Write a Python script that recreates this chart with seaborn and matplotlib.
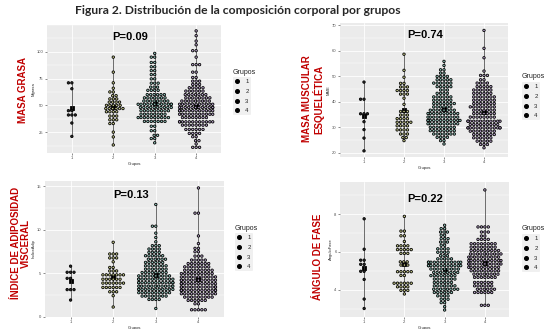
"""
Figura 2: distribución de la composición corporal por grupos (dotplots)
"""
import numpy as np
import pandas as pd
import matplotlib

matplotlib.use("Agg")
import matplotlib.pyplot as plt
from matplotlib.lines import Line2D
from matplotlib.ticker import AutoMinorLocator
import seaborn as sns

GRUPOS = ["1", "2", "3", "4"]

# Masa grasa: valor de cada fila de puntos y cantidad de puntos en la fila
grasa_g1_val = [71, 65.5, 45, 41, 33.5, 21]
grasa_g1_n = [2, 1, 2, 3, 1, 1]
grasa_g2_val = [95, 81, 71, 66, 62.5, 59, 56, 53, 50, 47, 44, 40, 36.5, 33, 25, 20.5, 13]
grasa_g2_n = [1, 1, 1, 1, 2, 2, 3, 4, 5, 6, 4, 3, 3, 2, 1, 1, 1]
grasa_g3_val = [98.5, 95, 90, 86, 82.4, 78.7, 74.7, 70.7, 67, 64, 60, 57, 54, 51,
                48, 45, 41.7, 38.6, 35, 30.5, 26.3, 22, 19, 15]
grasa_g3_n = [1, 2, 2, 2, 2, 2, 2, 3, 3, 4, 6, 7, 8, 12, 10, 9, 8, 10, 7, 2, 2, 2, 2, 1]
grasa_g4_val = [119.5, 115, 110, 106.5, 101, 95, 88, 81, 76, 72.6, 69.5, 66.4, 63.3,
                60, 57, 54, 51, 48, 45, 41.7, 38.6, 34.6, 31.5, 27.5, 23.8, 20.7,
                17, 14, 10.8]
grasa_g4_n = [1, 1, 1, 1, 2, 1, 3, 2, 2, 3, 3, 5, 6, 7, 8, 9, 11, 12, 12, 11, 8, 12,
              8, 6, 4, 2, 2, 1, 3]

# Masa muscular esquelética
mme_g1_val = [47.7, 41, 35.3, 32.2, 29.1, 25.8, 20.8]
mme_g1_n = [1, 2, 3, 1, 1, 1, 1]
mme_g2_val = [58.6, 52.3, 49.6, 47.2, 45.8, 44.4, 43.0, 41.4, 39.0, 36.2, 34.8, 33.4,
              32.0, 30.6, 29.0, 27.4, 26.0, 24.8]
mme_g2_n = [1, 1, 1, 2, 3, 4, 3, 1, 1, 3, 3, 4, 5, 4, 4, 3, 2, 1]
mme_g3_val = [55.8, 54.2, 52.5, 51.2, 49.9, 48.6, 47.3, 45.9, 44.6, 43.3, 41.9, 40.6,
              39.3, 38.0, 36.7, 35.4, 34.0, 32.7, 31.4, 30.0, 28.7, 27.4, 26.1, 24.8,
              23.5]
mme_g3_n = [1, 1, 2, 2, 4, 5, 6, 5, 3, 4, 6, 6, 7, 6, 8, 10, 10, 12, 10, 8, 8, 7, 4,
            2, 1]
mme_g4_val = [67.9, 60.9, 57.2, 52.0, 50.3, 48.6, 47.3, 45.9, 44.6, 43.3, 41.9, 40.6,
              39.3, 38.0, 36.7, 35.4, 34.0, 32.4, 31.1, 29.8, 28.5, 27.2, 25.9, 24.6,
              23.3, 22.0]
mme_g4_n = [1, 1, 1, 1, 3, 2, 4, 5, 6, 6, 7, 7, 7, 8, 7, 7, 8, 12, 9, 13, 8, 7, 6, 5,
            3, 1]

# Índice de adiposidad visceral
iav_g1_val = [5.8, 5.1, 4.4, 3.1, 1.9]
iav_g1_n = [1, 3, 2, 3, 1]
iav_g2_val = [8.55, 7.2, 6.75, 6.3, 5.65, 5.25, 4.8, 4.3, 3.85, 3.35, 2.85, 2.4, 1.1]
iav_g2_n = [1, 3, 3, 1, 2, 3, 7, 6, 7, 6, 3, 1, 1]
iav_g3_val = [12.9, 10.4, 9.6, 9.1, 8.6, 8.16, 7.77, 7.39, 7.0, 6.6, 6.23, 5.84, 5.45,
              5.07, 4.68, 4.3, 3.9, 3.5, 3.13, 2.75, 2.36, 1.97, 0.93]
iav_g3_n = [1, 2, 1, 1, 1, 3, 4, 4, 6, 6, 6, 7, 7, 8, 10, 12, 13, 12, 12, 10, 8, 4, 1]
iav_g4_val = [14.8, 11.9, 9.28, 8.4, 7.85, 7.46, 6.96, 6.5, 6.1, 5.72, 5.33, 4.95,
              4.56, 4.18, 3.79, 3.4, 3.02, 2.63, 2.24, 1.86, 1.47, 0.78]
iav_g4_n = [1, 2, 1, 1, 2, 2, 3, 5, 7, 8, 9, 10, 11, 12, 12, 13, 14, 11, 9, 6, 2, 5]

# Ángulo de fase
af_g1_val = [7.75, 6.14, 5.56, 5.34, 4.97, 4.54, 3.5, 3.0]
af_g1_n = [1, 1, 2, 2, 2, 1, 1, 1]
af_g2_val = [7.88, 7.1, 6.85, 6.55, 6.32, 6.12, 5.92, 5.47, 5.3, 4.95, 4.75, 4.34,
             4.15, 3.96, 3.77]
af_g2_n = [1, 2, 2, 1, 4, 5, 3, 3, 3, 5, 2, 6, 4, 3, 1]
af_g3_val = [7.41, 7.23, 7.05, 6.88, 6.7, 6.52, 6.35, 6.16, 5.98, 5.8, 5.63, 5.45,
             5.27, 5.09, 4.91, 4.74, 4.56, 4.38, 4.2, 4.02, 3.85, 3.67, 3.49, 3.31,
             3.1, 2.92]
af_g3_n = [1, 2, 3, 2, 3, 3, 2, 4, 4, 3, 5, 12, 12, 9, 8, 8, 7, 6, 7, 8, 6, 4, 3, 2,
           1, 1]
af_g4_val = [9.28, 7.32, 7.05, 6.84, 6.66, 6.43, 6.25, 6.07, 5.89, 5.72, 5.54, 5.36,
             5.18, 5.0, 4.82, 4.65, 4.38, 4.2, 4.02, 3.85, 3.17]
af_g4_n = [1, 4, 3, 2, 4, 8, 8, 9, 10, 10, 11, 12, 10, 9, 8, 7, 6, 6, 6, 6, 3]

# Relleno de los puntos por grupo (el borde es negro)
FILLS = {"1": "#2a2a2a", "2": "#c9cc8a", "3": "#8fc4ba", "4": "#b9a3cc"}
RED = "#C00000"

W, H = 553, 329


def px_box(x0, y0, x1, y1):
    """
    Convert a pixel box of the reference into figure fractions
    """
    return [x0 / W, 1 - y1 / H, (x1 - x0) / W, (y1 - y0) / H]


def px(x, y):
    return x / W, 1 - y / H


def build_frame(valores, cuentas):
    """
    One row per dot, from the rows read off the picture
    """
    filas = []
    for grupo, val, n in zip(GRUPOS, valores, cuentas):
        for v in np.repeat(val, n):
            filas.append({"Grupo": grupo, "valor": v})
    return pd.DataFrame(filas)


def plot_panel(fig, box, df, ylabel, ylim, yticks, p_text, p_pos, leg_pos):
    """
    Dotplot of one variable with range line, P value and legend
    """
    ax = fig.add_axes(px_box(*box))
    # Range line (min-max) and mean marker
    sns.pointplot(data=df, x="Grupo", y="valor", order=GRUPOS, estimator="mean",
                  errorbar=("pi", 100), color="black", marker="s", markersize=1.6,
                  linestyle="none", err_kws={"linewidth": 0.5, "color": "#333333"},
                  ax=ax)
    sns.swarmplot(data=df, x="Grupo", y="valor", hue="Grupo", order=GRUPOS,
                  hue_order=GRUPOS, palette=FILLS, size=1.75, edgecolor="black",
                  linewidth=0.6, legend=False, warn_thresh=1, ax=ax)

    ax.set_xlim(-0.6, 3.6)
    ax.set_ylim(*ylim)
    ax.set_yticks(yticks)
    ax.yaxis.set_minor_locator(AutoMinorLocator(2))
    ax.grid(which="major", color="white", linewidth=0.6)
    ax.grid(which="minor", axis="y", color="white", linewidth=0.3)
    for s in ax.spines.values():
        s.set_visible(False)
    ax.tick_params(axis="both", which="major", labelsize=3, length=1.5, width=0.4,
                   color="#333333", labelcolor="#4D4D4D", pad=1, bottom=True,
                   left=True)
    ax.tick_params(axis="y", which="minor", length=0)
    ax.set_xlabel("Grupos", fontsize=3, labelpad=1, color="#222222")
    ax.set_ylabel(ylabel, fontsize=3, labelpad=1, color="#222222")

    fig.text(*px(*p_pos), p_text, fontsize=8, fontweight="bold", ha="center",
             va="center", color="black")

    # Legend: title as text, keys on gray box
    lx, ly = leg_pos
    fig.text(*px(lx, ly), "Grupos", fontsize=5, color="#222222", ha="left",
             va="center")
    handles = [Line2D([], [], marker="o", color="black", linestyle="none",
                      markersize=2.6) for _ in GRUPOS]
    ax.legend(handles, GRUPOS, loc="upper left", bbox_to_anchor=px(lx, ly + 5),
              bbox_transform=fig.transFigure, frameon=True, facecolor="#F0F0F0",
              edgecolor="none", framealpha=1, fontsize=4.3, handlelength=0.7,
              handletextpad=1.0, labelspacing=0.75, borderpad=0.35,
              borderaxespad=0)
    return ax


def main():
    sns.set_style("darkgrid", {"axes.facecolor": "#EBEBEB", "grid.color": "white"})
    plt.rcParams["font.family"] = ["Liberation Sans", "DejaVu Sans"]

    fig = plt.figure(figsize=(W / 100, H / 100), dpi=100)

    grasa = build_frame([grasa_g1_val, grasa_g2_val, grasa_g3_val, grasa_g4_val],
                        [grasa_g1_n, grasa_g2_n, grasa_g3_n, grasa_g4_n])
    mme = build_frame([mme_g1_val, mme_g2_val, mme_g3_val, mme_g4_val],
                      [mme_g1_n, mme_g2_n, mme_g3_n, mme_g4_n])
    iav = build_frame([iav_g1_val, iav_g2_val, iav_g3_val, iav_g4_val],
                      [iav_g1_n, iav_g2_n, iav_g3_n, iav_g4_n])
    af = build_frame([af_g1_val, af_g2_val, af_g3_val, af_g4_val],
                     [af_g1_n, af_g2_n, af_g3_n, af_g4_n])

    plot_panel(fig, (47, 25, 221, 153), grasa, "Mgrasa", (5.5, 125),
               [25, 50, 75, 100], "P=0.09", (130.5, 37), (233, 72))
    plot_panel(fig, (340, 23, 508, 157), mme, "MME", (18.4, 70.8),
               [20, 30, 40, 50, 60, 70], "P=0.74", (425, 35), (522, 77))
    plot_panel(fig, (45, 181, 224, 317), iav, "IndiceAdip", (-0.05, 15.6),
               [0, 5, 10, 15], "P=0.13", (131, 194.5), (235, 228))
    plot_panel(fig, (340, 182, 509, 317), af, "AnguloFase", (2.55, 9.7),
               [4, 6, 8], "P=0.22", (425, 198.5), (522, 229))

    # Red labels on the left of each panel
    labels = [
        ("MASA GRASA", (23, 90)),
        ("MASA MUSCULAR\nESQUELÉTICA", (313, 99)),
        ("ÍNDICE DE ADIPOSIDAD\nVISCERAL", (21, 243)),
        ("ÁNGULO DE FASE", (318, 257)),
    ]
    for text, pos in labels:
        fig.text(*px(*pos), text, rotation=90, fontsize=7, fontweight="bold",
                 color=RED, ha="center", va="center", multialignment="center",
                 linespacing=1.0)

    fig.text(*px(237.5, 10), "Figura 2. Distribución de la composición corporal por grupos",
             fontsize=8.7, fontweight="bold", ha="center", va="center",
             family=["Lato", "DejaVu Sans"])

    fig.savefig("out.png", dpi=100)


if __name__ == "__main__":
    main()
